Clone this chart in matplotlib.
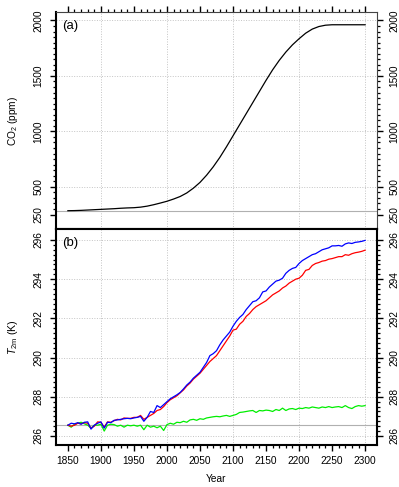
import numpy as np
import matplotlib
matplotlib.use("Agg")
import matplotlib.pyplot as plt
from matplotlib.ticker import FixedLocator

plt.rcParams['font.family'] = ['Liberation Sans', 'DejaVu Sans']
plt.rcParams['mathtext.fontset'] = 'custom'
plt.rcParams['mathtext.rm'] = 'Liberation Sans'
plt.rcParams['mathtext.it'] = 'Liberation Sans:italic'

# ---------------- data ----------------
co2_years = [1850, 1860, 1870, 1880, 1890, 1900, 1910, 1920, 1930, 1940, 1950, 1960, 1970,
             1980, 1990, 2000, 2010, 2020, 2030, 2040, 2050, 2060, 2070, 2080, 2090, 2100,
             2110, 2120, 2130, 2140, 2150, 2160, 2170, 2180, 2190, 2200, 2210, 2220, 2230,
             2240, 2250, 2260, 2270, 2280, 2290, 2300]
co2_ppm = [285, 286, 288, 291, 294, 297, 300, 303, 307, 310, 312, 317, 326,
           339, 354, 370, 390, 413, 445, 488, 540, 605, 680, 765, 860, 960,
           1060, 1160, 1260, 1360, 1460, 1555, 1640, 1715, 1780, 1835, 1885, 1922, 1945,
           1957, 1961, 1961, 1961, 1961, 1961, 1961]

t_years = list(range(1850, 2301, 5))
t_blue = [286.55, 286.65, 286.62, 286.68, 286.60, 286.70, 286.72, 286.35, 286.55, 286.65,
          286.72, 286.40, 286.70, 286.68, 286.80, 286.82, 286.85, 286.88, 286.90, 286.88,
          286.92, 286.95, 287.00, 286.75, 286.95, 287.25, 287.20, 287.55, 287.45, 287.60,
          287.75, 287.90, 288.00, 288.10, 288.22, 288.40, 288.60, 288.75, 288.95, 289.10,
          289.25, 289.50, 289.75, 290.10, 290.20, 290.35, 290.65, 290.90, 291.10, 291.30,
          291.60, 291.85, 292.05, 292.20, 292.45, 292.65, 292.85, 292.90, 293.05, 293.35,
          293.40, 293.60, 293.75, 293.90, 293.95, 294.05, 294.30, 294.45, 294.55, 294.60,
          294.80, 294.95, 295.05, 295.15, 295.25, 295.30, 295.40, 295.50, 295.55, 295.60,
          295.70, 295.70, 295.72, 295.68, 295.80, 295.85, 295.82, 295.88, 295.90, 295.93,
          295.98]
t_red = [286.55, 286.50, 286.55, 286.65, 286.62, 286.68, 286.65, 286.40, 286.50, 286.72,
         286.70, 286.45, 286.72, 286.70, 286.78, 286.85, 286.82, 286.92, 286.90, 286.90,
         286.95, 286.95, 287.05, 286.85, 286.95, 287.05, 287.15, 287.30, 287.35, 287.50,
         287.70, 287.85, 287.95, 288.05, 288.20, 288.35, 288.55, 288.70, 288.90, 289.05,
         289.20, 289.40, 289.60, 289.80, 289.95, 290.10, 290.35, 290.60, 290.85, 291.10,
         291.40, 291.45, 291.70, 291.85, 292.10, 292.25, 292.45, 292.60, 292.70, 292.80,
         292.90, 293.05, 293.20, 293.30, 293.40, 293.55, 293.65, 293.80, 293.90, 294.00,
         294.05, 294.20, 294.45, 294.50, 294.70, 294.80, 294.85, 294.92, 294.95, 295.02,
         295.05, 295.10, 295.15, 295.15, 295.25, 295.22, 295.30, 295.35, 295.38, 295.42,
         295.48]
t_green = [286.55, 286.45, 286.60, 286.65, 286.70, 286.62, 286.55, 286.40, 286.55, 286.55,
           286.60, 286.25, 286.55, 286.60, 286.58, 286.50, 286.55, 286.45, 286.55, 286.52,
           286.55, 286.50, 286.55, 286.32, 286.55, 286.45, 286.50, 286.42, 286.50, 286.28,
           286.58, 286.65, 286.60, 286.70, 286.68, 286.75, 286.70, 286.82, 286.85, 286.80,
           286.88, 286.85, 286.92, 286.95, 286.98, 287.00, 286.98, 287.02, 287.05, 287.00,
           287.05, 287.10, 287.20, 287.22, 287.25, 287.28, 287.30, 287.20, 287.30, 287.28,
           287.32, 287.30, 287.25, 287.35, 287.30, 287.42, 287.30, 287.38, 287.40, 287.35,
           287.42, 287.40, 287.45, 287.42, 287.48, 287.45, 287.42, 287.48, 287.45, 287.50,
           287.45, 287.48, 287.50, 287.45, 287.55, 287.45, 287.40, 287.50, 287.55, 287.52,
           287.55]

co2_ref = 280
t_ref = 286.55

x_major = list(range(1850, 2301, 50))
x_minor = list(range(1850, 2301, 10))
x_grid = list(range(1900, 2301, 100))
co2_major = [250, 500, 1000, 1500, 2000]
co2_minor = list(range(250, 2001, 50))
co2_grid = [500, 1000, 1500, 2000]
t_major = [286, 288, 290, 292, 294, 296]
t_minor = list(np.arange(286, 296.01, 0.25))

# ---------------- figure ----------------
W, H = 399, 487
fig = plt.figure(figsize=(W / 100, H / 100), dpi=100)
L, R = 56 / W, 377 / W
ya_top, mid, yb_bot = 1 - 12 / H, 1 - 229 / H, 1 - 445 / H
axa = fig.add_axes([L, mid, R - L, ya_top - mid])
axb = fig.add_axes([L, yb_bot, R - L, mid - yb_bot])

fs = 7.3
grid_kw = dict(color='#c4c4c4', lw=0.7, ls=(0, (1, 1.6)), zorder=0)

for ax in (axa, axb):
    ax.set_xlim(1832, 2318)
    for xv in x_grid:
        ax.axvline(xv, **grid_kw)
    for s in ax.spines.values():
        s.set_color('black')
        s.set_linewidth(1.5)
    ax.xaxis.set_major_locator(FixedLocator(x_major))
    ax.xaxis.set_minor_locator(FixedLocator(x_minor))
    ax.tick_params(axis='both', which='major', length=4, width=1, labelsize=fs, color='black')
    ax.tick_params(axis='both', which='minor', length=2.3, width=0.9, color='black')
    ax.tick_params(axis='y', which='both', left=True, right=True, labelleft=True, labelright=True)

axa.spines['top'].set_linewidth(0.8)
axa.spines['top'].set_color('#444444')
axa.spines['right'].set_linewidth(0.8)
axa.spines['right'].set_color('#444444')

# panel (a)
axa.set_ylim(120, 2076)
for yv in co2_grid:
    axa.axhline(yv, **grid_kw)
axa.axhline(co2_ref, color='#b0b0b0', lw=0.8, zorder=1)
axa.plot(co2_years, co2_ppm, color='black', lw=0.9, zorder=3)
axa.yaxis.set_major_locator(FixedLocator(co2_major))
axa.yaxis.set_minor_locator(FixedLocator(co2_minor))
axa.tick_params(axis='x', which='both', top=True, bottom=False, labeltop=False, labelbottom=False)
axa.set_ylabel('CO$_2$ (ppm)', fontsize=fs)
axa.yaxis.set_label_coords(-0.112, 0.5)
axa.text(0.02, 0.965, '(a)', transform=axa.transAxes, fontsize=9.5, va='top', ha='left')

# panel (b)
axb.set_ylim(285.54, 296.56)
for yv in t_major:
    axb.axhline(yv, **grid_kw)
axb.axhline(t_ref, color='#b0b0b0', lw=0.8, zorder=1)
axb.plot(t_years, t_green, color='#00ee00', lw=0.9, zorder=3)
axb.plot(t_years, t_red, color='red', lw=0.9, zorder=4)
axb.plot(t_years, t_blue, color='blue', lw=0.9, zorder=5)
axb.yaxis.set_major_locator(FixedLocator(t_major))
axb.yaxis.set_minor_locator(FixedLocator(t_minor))
axb.tick_params(axis='x', which='both', top=False, bottom=True, labelbottom=True)
axb.tick_params(axis='x', which='major', pad=4)
axb.set_ylabel(r'$T_{\mathrm{2m}}$ (K)', fontsize=fs + 0.4)
axb.yaxis.set_label_coords(-0.112, 0.5)
axb.set_xlabel('Year', fontsize=fs, labelpad=6)
axb.text(0.02, 0.965, '(b)', transform=axb.transAxes, fontsize=9.5, va='top', ha='left')

for ax in (axa, axb):
    ax.tick_params(axis='y', which='major', pad=5)
    for t in ax.yaxis.get_major_ticks():
        t.label1.set_rotation(90)
        t.label2.set_rotation(90)
        t.label1.set_va('center')
        t.label2.set_va('center')

fig.savefig('out.png', dpi=100)
